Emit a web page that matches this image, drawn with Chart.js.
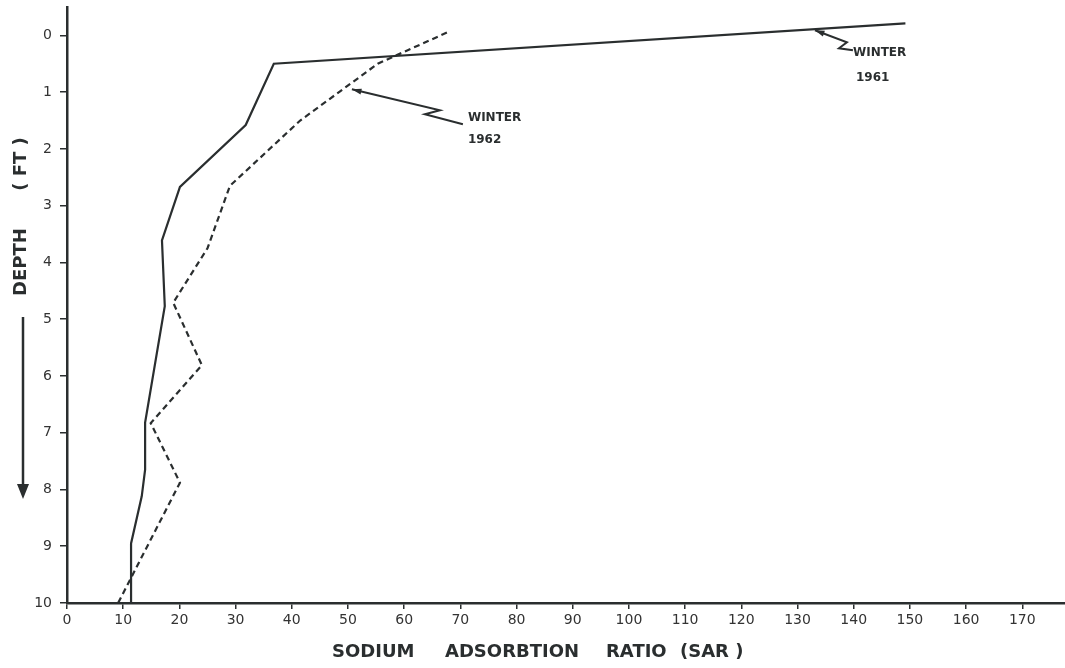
<!DOCTYPE html>
<html>
<head>
<meta charset="utf-8">
<script src="https://cdn.jsdelivr.net/npm/chart.js@4.4.1/dist/chart.umd.min.js"></script>
<style>
html, body { margin: 0; padding: 0; background: #fff; }
#wrap { width: 1065px; height: 668px; position: relative; }
</style>
</head>
<body>
<div id="wrap"><canvas id="sarChart"></canvas></div>
<script>
const sarTicks = [0, 10, 20, 30, 40, 50, 60, 70, 80, 90, 100, 110, 120, 130, 140, 150, 160, 170];
const depthTicks = [0, 1, 2, 3, 4, 5, 6, 7, 8, 9, 10];

// Winter 1961 (solid)
const winter1961Sar = [149.2, 36.8, 31.8, 20.1, 16.9, 17.4, 13.9, 13.9, 13.3, 11.4, 11.4];
const winter1961Depth = [-0.21, 0.5, 1.58, 2.67, 3.61, 4.77, 6.82, 7.65, 8.12, 8.95, 10];

// Winter 1962 (dashed)
const winter1962Sar = [67.6, 55.3, 41.5, 29.0, 25.0, 18.9, 24.0, 14.9, 20.1, 9.1];
const winter1962Depth = [-0.05, 0.5, 1.5, 2.65, 3.75, 4.71, 5.81, 6.83, 7.88, 10];

const INK = "#2a2e2f";

function toPoints(xs, ys) {
    return xs.map((x, i) => ({ x: x, y: ys[i] }));
}

function drawCallout(ctx, chart, tip, path, lines) {
    const px = chart.scales.x.getPixelForValue(tip[0]);
    const py = chart.scales.y.getPixelForValue(tip[1]);
    ctx.lineWidth = 2;
    ctx.beginPath();
    ctx.moveTo(px, py);
    path.forEach(p => ctx.lineTo(px + p[0], py + p[1]));
    ctx.stroke();
    // arrow head along first segment
    const ang = Math.atan2(path[0][1], path[0][0]);
    ctx.beginPath();
    ctx.moveTo(px, py);
    ctx.lineTo(px + 10 * Math.cos(ang - 0.3), py + 10 * Math.sin(ang - 0.3));
    ctx.lineTo(px + 10 * Math.cos(ang + 0.3), py + 10 * Math.sin(ang + 0.3));
    ctx.closePath();
    ctx.fill();
    ctx.font = "bold 12px 'DejaVu Sans'";
    ctx.textBaseline = "middle";
    ctx.textAlign = "left";
    lines.forEach(l => ctx.fillText(l[0], px + l[1], py + l[2]));
}

const extrasPlugin = {
    id: "extras",
    afterDraw(chart) {
        const ctx = chart.ctx;
        ctx.save();
        ctx.fillStyle = INK;
        ctx.strokeStyle = INK;

        // x axis title
        ctx.font = "bold 18px 'DejaVu Sans'";
        ctx.textBaseline = "middle";
        ctx.textAlign = "left";
        [["SODIUM", 332], ["ADSORBTION", 445], ["RATIO", 606], ["(SAR )", 680]].forEach(w => {
            ctx.fillText(w[0], w[1], 652);
        });

        // y axis title
        ctx.textAlign = "center";
        [["DEPTH", 262], ["( FT )", 164]].forEach(w => {
            ctx.save();
            ctx.translate(21, w[1]);
            ctx.rotate(-Math.PI / 2);
            ctx.fillText(w[0], 0, 0);
            ctx.restore();
        });

        // downward arrow
        ctx.lineWidth = 2.5;
        ctx.beginPath();
        ctx.moveTo(23, 317);
        ctx.lineTo(23, 488);
        ctx.stroke();
        ctx.beginPath();
        ctx.moveTo(17, 484);
        ctx.lineTo(29, 484);
        ctx.lineTo(23, 499);
        ctx.closePath();
        ctx.fill();

        // callouts
        drawCallout(ctx, chart, [50.7, 0.95], [[88, 21], [73, 25], [111, 35]],
            [["WINTER", 116, 29], ["1962", 116, 51]]);
        drawCallout(ctx, chart, [133.1, -0.09], [[32, 12], [24, 18], [38, 20]],
            [["WINTER", 38, 23], ["1961", 41, 48]]);
        ctx.restore();
    }
};

new Chart(document.getElementById("sarChart"), {
    type: "line",
    data: {
        datasets: [
            {
                label: "Winter 1961",
                data: toPoints(winter1961Sar, winter1961Depth),
                borderColor: INK,
                borderWidth: 2.2,
                pointRadius: 0,
                tension: 0,
                fill: false
            },
            {
                label: "Winter 1962",
                data: toPoints(winter1962Sar, winter1962Depth),
                borderColor: INK,
                borderWidth: 2.2,
                borderDash: [6, 4],
                pointRadius: 0,
                tension: 0,
                fill: false
            }
        ]
    },
    options: {
        responsive: true,
        maintainAspectRatio: false,
        animation: false,
        layout: { padding: { top: 7, right: 0, bottom: 0, left: 0 } },
        plugins: {
            legend: { display: false },
            tooltip: { enabled: false }
        },
        scales: {
            x: {
                type: "linear",
                min: 0,
                max: 177.6,
                bounds: "data",
                afterBuildTicks: s => { s.ticks = sarTicks.map(v => ({ value: v })); },
                afterFit: s => { s.height = 65; s.paddingLeft = 0; s.paddingRight = 0; },
                grid: { drawOnChartArea: false, drawTicks: true, tickLength: 6, color: INK, lineWidth: 1.5 },
                border: { display: true, color: INK, width: 2.5 },
                ticks: { color: "#333", font: { family: "'DejaVu Sans'", size: 14 }, padding: 3, maxRotation: 0, autoSkip: false }
            },
            y: {
                type: "linear",
                reverse: true,
                min: -0.5,
                max: 10,
                bounds: "data",
                afterBuildTicks: s => { s.ticks = depthTicks.map(v => ({ value: v })); },
                afterFit: s => { s.width = 67; s.paddingTop = 0; s.paddingBottom = 0; },
                grid: { drawOnChartArea: false, drawTicks: true, tickLength: 7, color: INK, lineWidth: 1.5 },
                border: { display: true, color: INK, width: 2.5 },
                ticks: { color: "#333", font: { family: "'DejaVu Sans'", size: 14 }, padding: 8, autoSkip: false }
            }
        }
    },
    plugins: [extrasPlugin]
});
</script>
</body>
</html>
